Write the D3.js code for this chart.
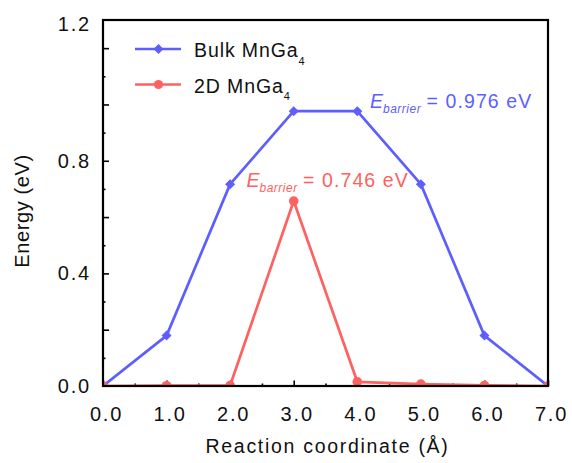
<!DOCTYPE html>
<html>
<head>
<meta charset="utf-8">
<script src="https://cdn.jsdelivr.net/npm/d3@7"></script>
<style>
  html, body { margin: 0; padding: 0; background: #fff; }
  svg { display: block; font-family: "Liberation Sans", Arial, sans-serif; }
</style>
</head>
<body>
<svg id="chart" width="572" height="463"></svg>
<script>
// Reaction coordinate (Å) for each image along the migration path
const coords = [0, 1, 2, 3, 4, 5, 6, 7];
// Relative energies (eV)
const bulkEnergy = [0, 0.179, 0.717, 0.976, 0.976, 0.717, 0.179, 0];
const twoDEnergy = [0, 0.001, 0.002, 0.657, 0.015, 0.007, 0.002, 0];

const seriesNames = ["Bulk MnGa", "2D MnGa"];
const barrierLabels = ["0.976", "0.746"];

// Axis ticks
const xTickValues = [0, 1, 2, 3, 4, 5, 6, 7];
const xTickLabels = ["0.0", "1.0", "2.0", "3.0", "4.0", "5.0", "6.0", "7.0"];
const xMinorTicks = [0.5, 1.5, 2.5, 3.5, 4.5, 5.5, 6.5];
const yLabelValues = [0, 0.4, 0.8, 1.285];
const yTickLabels = ["0.0", "0.4", "0.8", "1.2"];
const yMajorTicks = [0.2, 0.4, 0.6, 0.8, 1.0, 1.2];
const yMinorTicks = [0.1, 0.3, 0.5, 0.7, 0.9, 1.1];

const BLUE = "#5e5eff";
const RED = "#ff6060";

const svg = d3.select("#chart");
const plotL = 103, plotR = 548, plotT = 20, plotB = 386;

const x = d3.scaleLinear().domain([0, 7]).range([plotL, plotR]);
const y = d3.scaleLinear().domain([0, 1.3]).range([plotB, plotT]);

svg.append("rect").attr("width", 572).attr("height", 463).attr("fill", "#fff");

// clip for the data marks
svg.append("defs").append("clipPath").attr("id", "plotClip")
  .append("rect").attr("x", plotL).attr("y", plotT)
  .attr("width", plotR - plotL).attr("height", plotB - plotT);

// ---- axes ----
function styleAxis(g) {
  g.select(".domain").remove();
  g.selectAll(".tick line").attr("stroke", "#000").attr("stroke-width", 1.6);
}

// x minor / major ticks (inward)
svg.append("g").attr("transform", `translate(0,${plotB})`)
  .call(d3.axisBottom(x).tickValues(xMinorTicks).tickSize(-2.5).tickFormat(""))
  .call(styleAxis);
svg.append("g").attr("transform", `translate(0,${plotB})`)
  .call(d3.axisBottom(x).tickValues(xTickValues).tickSize(-5.5).tickFormat(""))
  .call(styleAxis);
// x labels
const xLab = svg.append("g").attr("transform", `translate(3,${plotB})`)
  .call(d3.axisBottom(x).tickValues(xTickValues).tickSize(0).tickPadding(21)
    .tickFormat((d, i) => xTickLabels[i]));
xLab.select(".domain").remove();
xLab.selectAll("text").attr("font-size", 20).attr("fill", "#111")
  .attr("font-family", "Liberation Sans, Arial, sans-serif")
  .style("letter-spacing", "1.8px");

// y minor / major ticks (inward)
svg.append("g").attr("transform", `translate(${plotL},0)`)
  .call(d3.axisLeft(y).tickValues(yMinorTicks).tickSize(-2.5).tickFormat(""))
  .call(styleAxis);
svg.append("g").attr("transform", `translate(${plotL},0)`)
  .call(d3.axisLeft(y).tickValues(yMajorTicks).tickSize(-6).tickFormat(""))
  .call(styleAxis);
const yLab = svg.append("g").attr("transform", `translate(${plotL},0)`)
  .call(d3.axisLeft(y).tickValues(yLabelValues).tickSize(0).tickPadding(12)
    .tickFormat((d, i) => yTickLabels[i]));
yLab.select(".domain").remove();
yLab.selectAll("text").attr("font-size", 20).attr("fill", "#111")
  .attr("font-family", "Liberation Sans, Arial, sans-serif")
  .style("letter-spacing", "1.8px");

// axis titles
svg.append("text")
  .attr("x", (plotL + plotR) / 2 + 2).attr("y", 453)
  .attr("text-anchor", "middle").attr("font-size", 19.5).attr("fill", "#111")
  .style("letter-spacing", "1.7px")
  .text("Reaction coordinate (Å)");
svg.append("text")
  .attr("transform", "translate(29,211) rotate(-90)")
  .attr("text-anchor", "middle").attr("font-size", 20).attr("fill", "#111")
  .style("letter-spacing", "0.6px")
  .text("Energy (eV)");

// ---- data ----
const line = d3.line().x((d, i) => x(coords[i])).y(d => y(d));
const plot = svg.append("g").attr("clip-path", "url(#plotClip)");

const diamond = "M0,-5L5,0L0,5L-5,0Z";

function drawSeries(values, color, marker) {
  plot.append("path").datum(values)
    .attr("d", line).attr("fill", "none")
    .attr("stroke", color).attr("stroke-width", 2.7)
    .attr("stroke-linejoin", "round");
  if (marker === "diamond") {
    plot.selectAll(null).data(values).enter().append("path")
      .attr("d", diamond)
      .attr("transform", (d, i) => `translate(${x(coords[i])},${y(d)})`)
      .attr("fill", color);
  } else {
    plot.selectAll(null).data(values).enter().append("circle")
      .attr("cx", (d, i) => x(coords[i])).attr("cy", d => y(d))
      .attr("r", 4.8).attr("fill", color);
  }
}
drawSeries(bulkEnergy, BLUE, "diamond");
drawSeries(twoDEnergy, RED, "circle");

// frame
svg.append("rect")
  .attr("x", plotL).attr("y", plotT)
  .attr("width", plotR - plotL).attr("height", plotB - plotT)
  .attr("fill", "none").attr("stroke", "#000").attr("stroke-width", 2.2);

// ---- legend ----
const legendRows = [
  { name: seriesNames[0], color: BLUE, marker: "diamond", y: 49 },
  { name: seriesNames[1], color: RED, marker: "circle", y: 84.5 }
];
legendRows.forEach(r => {
  svg.append("line").attr("x1", 135).attr("x2", 181)
    .attr("y1", r.y).attr("y2", r.y)
    .attr("stroke", r.color).attr("stroke-width", 2.7);
  if (r.marker === "diamond") {
    svg.append("path").attr("d", diamond)
      .attr("transform", `translate(158.5,${r.y})`).attr("fill", r.color);
  } else {
    svg.append("circle").attr("cx", 158.5).attr("cy", r.y)
      .attr("r", 4.6).attr("fill", r.color);
  }
  const t = svg.append("text").attr("x", 194).attr("y", r.y + 8.3)
    .attr("font-size", 19.5).attr("fill", "#111")
    .style("letter-spacing", "0.9px");
  t.append("tspan").text(r.name);
  t.append("tspan").attr("dy", 7.5).attr("font-size", 11).text("4");
});

// ---- barrier annotations ----
function barrier(xE, xEq, base, value, color) {
  const t = svg.append("text").attr("y", base).attr("fill", color);
  t.append("tspan").attr("x", xE).attr("font-size", 19.5)
    .attr("font-style", "italic").text("E");
  t.append("tspan").attr("dy", 4.5).attr("font-size", 12)
    .attr("font-style", "italic").style("letter-spacing", "0.5px").text("barrier");
  t.append("tspan").attr("x", xEq).attr("dy", -4.5).attr("font-size", 19.5)
    .style("letter-spacing", "1.1px").text(`= ${value} eV`);
}
barrier(370, 426.5, 108, barrierLabels[0], BLUE);
barrier(246.5, 303, 187, barrierLabels[1], RED);
</script>
</body>
</html>
